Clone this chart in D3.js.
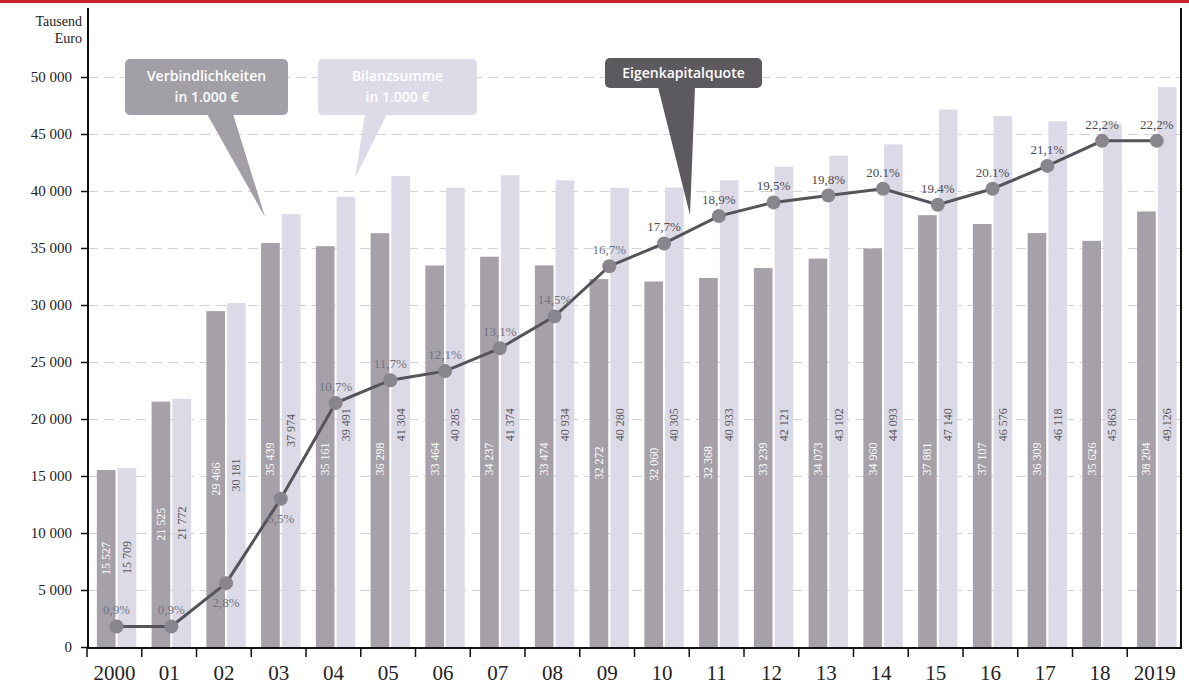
<!DOCTYPE html>
<html>
<head>
<meta charset="utf-8">
<script src="https://cdn.jsdelivr.net/npm/d3@7"></script>
<style>
  body { margin: 0; background: #fff; }
  svg { display: block; }
</style>
</head>
<body>
<div id="chart"></div>
<script>
var width = 1189,
    height = 686;

// data
var years = ["2000", "01", "02", "03", "04", "05", "06", "07", "08", "09",
             "10", "11", "12", "13", "14", "15", "16", "17", "18", "2019"];
var verbindlichkeiten = [15527, 21525, 29466, 35439, 35161, 36298, 33464, 34237, 33474, 32272,
                         32060, 32368, 33239, 34073, 34960, 37881, 37107, 36309, 35626, 38204];
var bilanzsumme = [15709, 21772, 30181, 37974, 39491, 41304, 40285, 41374, 40934, 40280,
                   40305, 40933, 42121, 43102, 44093, 47140, 46576, 46118, 45863, 49126];
var quote = [0.9, 0.9, 2.8, 6.5, 10.7, 11.7, 12.1, 13.1, 14.5, 16.7,
             17.7, 18.9, 19.5, 19.8, 20.1, 19.4, 20.1, 21.1, 22.2, 22.2];
var quoteLabels = ["0,9%", "0,9%", "2,8%", "6,5%", "10,7%", "11,7%", "12,1%", "13,1%", "14,5%", "16,7%",
                   "17,7%", "18,9%", "19,5%", "19,8%", "20.1%", "19.4%", "20.1%", "21,1%", "22,2%", "22,2%"];
var quoteBelow = ["02", "03"];
var bilanzLabels = ["15 709", "21 772", "30 181", "37 974", "39 491", "41 304", "40 285", "41 374", "40 934", "40 280",
                    "40 305", "40 933", "42 121", "43 102", "44 093", "47 140", "46 576", "46 118", "45 863", "49.126"];
var yTicks = [0, 5000, 10000, 15000, 20000, 25000, 30000, 35000, 40000, 45000, 50000];

var svg = d3.select("#chart").append("svg")
    .attr("width", width)
    .attr("height", height);

var x0 = d3.scaleBand().domain(years).range([87, 1182]).padding(0);
var bw = x0.bandwidth();
var x1 = d3.scaleBand().domain(["v", "b"]).range([bw * 0.18, bw * 0.9]).paddingInner(0.1);
var y = d3.scaleLinear().domain([0, 50000]).range([647, 77]);
var yq = d3.scaleLinear().domain([0, 25]).range([647, 77]);

var serif = "'Liberation Serif', 'DejaVu Serif', serif";
var sans = "'Open Sans', 'Noto Sans', sans-serif";

// red band on top
svg.append("rect").attr("x", 0).attr("y", 0).attr("width", width).attr("height", 3).attr("fill", "#c8202f");

// gridlines
svg.append("g").selectAll("line")
    .data(yTicks.filter(function(d) { return d > 0; }))
    .enter().append("line")
    .attr("x1", 88).attr("x2", 1181)
    .attr("y1", function(d) { return y(d) + 0.5; })
    .attr("y2", function(d) { return y(d) + 0.5; })
    .attr("stroke", "#d3d3d6")
    .attr("stroke-width", 1)
    .attr("stroke-dasharray", "10,6");

// bars
var groups = svg.append("g").selectAll("g")
    .data(years)
    .enter().append("g")
    .attr("transform", function(d) { return "translate(" + x0(d) + ",0)"; });

groups.append("rect")
    .attr("x", x1("v"))
    .attr("width", x1.bandwidth())
    .attr("y", function(d, i) { return y(verbindlichkeiten[i]); })
    .attr("height", function(d, i) { return y(0) - y(verbindlichkeiten[i]); })
    .attr("fill", "#a6a1a9");

groups.append("rect")
    .attr("x", x1("b"))
    .attr("width", x1.bandwidth())
    .attr("y", function(d, i) { return y(bilanzsumme[i]); })
    .attr("height", function(d, i) { return y(0) - y(bilanzsumme[i]); })
    .attr("fill", "#dcdae6");

// rotated value labels
groups.append("text")
    .attr("transform", function(d, i) {
        var cy = y(Math.min(verbindlichkeiten[i] / 2, 16500));
        return "translate(" + (x1("v") + x1.bandwidth() / 2 + 4) + "," + cy + ") rotate(-90)";
    })
    .attr("text-anchor", "middle")
    .style("font", "12px " + serif)
    .attr("fill", "#fff")
    .text(function(d, i) { return d3.format(",")(verbindlichkeiten[i]).replace(",", " "); });

groups.append("text")
    .attr("transform", function(d, i) {
        var cy = y(Math.min(bilanzsumme[i] / 2, 19500));
        return "translate(" + (x1("b") + x1.bandwidth() / 2 + 4) + "," + cy + ") rotate(-90)";
    })
    .attr("text-anchor", "middle")
    .style("font", "12px " + serif)
    .attr("fill", "#5a5860")
    .text(function(d, i) { return bilanzLabels[i]; });

// Eigenkapitalquote line
var cx = function(d, i) { return x0(years[i]) + x1("v") + (x1.bandwidth() * 2 + x1.step() - x1.bandwidth()) / 2; };
var line = d3.line()
    .x(function(d, i) { return cx(d, i); })
    .y(function(d) { return yq(d); });

svg.append("path")
    .datum(quote)
    .attr("d", line)
    .attr("fill", "none")
    .attr("stroke", "#56535a")
    .attr("stroke-width", 3);

svg.append("g").selectAll("circle")
    .data(quote)
    .enter().append("circle")
    .attr("cx", cx)
    .attr("cy", function(d) { return yq(d); })
    .attr("r", 7)
    .attr("fill", "#89858d");

svg.append("g").selectAll("text")
    .data(quote)
    .enter().append("text")
    .attr("x", cx)
    .attr("y", function(d, i) {
        return quoteBelow.indexOf(years[i]) >= 0 ? yq(d) + 24 : yq(d) - 12;
    })
    .attr("text-anchor", "middle")
    .style("font", "13px " + serif)
    .attr("fill", function(d, i) { return i < 10 ? "#6f7482" : "#4e4c52"; })
    .text(function(d, i) { return quoteLabels[i]; });

// axes
var yAxis = d3.axisLeft(y)
    .tickValues(yTicks)
    .tickSize(7)
    .tickFormat(function(d) { return d3.format(",")(d).replace(",", " "); });

var gy = svg.append("g")
    .attr("transform", "translate(88,0)")
    .call(yAxis);
gy.select(".domain").remove();
gy.selectAll("line").attr("stroke", "#111").attr("stroke-width", 1.5);
gy.selectAll("text")
    .attr("x", -16)
    .style("font", "15px " + serif)
    .attr("fill", "#222");

svg.append("line").attr("x1", 88).attr("x2", 88).attr("y1", 8).attr("y2", 648)
    .attr("stroke", "#111").attr("stroke-width", 2);
svg.append("line").attr("x1", 1181).attr("x2", 1181).attr("y1", 8).attr("y2", 648)
    .attr("stroke", "#111").attr("stroke-width", 2);
svg.append("line").attr("x1", 87).attr("x2", 1182).attr("y1", 648).attr("y2", 648)
    .attr("stroke", "#111").attr("stroke-width", 2);

svg.append("g").selectAll("line")
    .data(years)
    .enter().append("line")
    .attr("x1", function(d) { return x0(d); })
    .attr("x2", function(d) { return x0(d); })
    .attr("y1", 648).attr("y2", 657)
    .attr("stroke", "#111").attr("stroke-width", 1.5);

svg.append("g").selectAll("text")
    .data(years)
    .enter().append("text")
    .attr("x", function(d) { return x0(d) + bw / 2; })
    .attr("y", 680)
    .attr("text-anchor", "middle")
    .style("font", "21px " + serif)
    .attr("fill", "#222")
    .text(function(d) { return d; });

// unit label
svg.append("text").attr("x", 82).attr("y", 26).attr("text-anchor", "end")
    .style("font", "14px " + serif).attr("fill", "#222").text("Tausend");
svg.append("text").attr("x", 82).attr("y", 43).attr("text-anchor", "end")
    .style("font", "14px " + serif).attr("fill", "#222").text("Euro");

// callouts
function callout(box, tip, base, fill, lines) {
    svg.append("path")
        .attr("d", "M" + base[0] + "," + (box[1] + box[3] - 1) + "L" + tip[0] + "," + tip[1] + "L" + base[1] + "," + (box[1] + box[3] - 1) + "Z")
        .attr("fill", fill);
    svg.append("rect")
        .attr("x", box[0]).attr("y", box[1]).attr("width", box[2]).attr("height", box[3])
        .attr("rx", 5).attr("fill", fill);
    lines.forEach(function(t, i) {
        svg.append("text")
            .attr("x", box[0] + box[2] / 2)
            .attr("y", box[1] + (lines.length === 1 ? box[3] / 2 + 5 : 22 + i * 21))
            .attr("text-anchor", "middle")
            .style("font", "600 14px " + sans)
            .attr("fill", "#fff")
            .text(t);
    });
}

callout([125, 59, 163, 56], [265, 217], [207, 233], "#a29fa6", ["Verbindlichkeiten", "in 1.000 €"]);
callout([318, 59, 159, 56], [355, 178], [365, 387], "#dddbe8", ["Bilanzsumme", "in 1.000 €"]);
callout([605, 58, 157, 30], [690, 215], [658, 695], "#5c595f", ["Eigenkapitalquote"]);
</script>
</body>
</html>
